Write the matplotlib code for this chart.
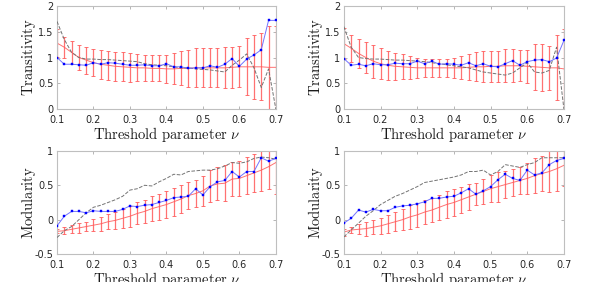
import numpy as np
import matplotlib.pyplot as plt
from matplotlib.ticker import FormatStrFormatter

plt.rcParams['mathtext.fontset'] = 'cm'

nu = np.round(np.arange(0.1, 0.7001, 0.02), 2)

# transitivity, left panel
trans_obs_a = [1.0, 0.87, 0.87, 0.86, 0.85, 0.9, 0.87, 0.9, 0.89, 0.87, 0.85, 0.85, 0.86, 0.84, 0.84, 0.88,
               0.82, 0.82, 0.79, 0.8, 0.8, 0.84, 0.81, 0.87, 0.98, 0.83, 0.97, 1.05, 1.15, 1.72, 1.72]
trans_mean_a = [1.28, 1.2, 1.1, 1.0, 0.95, 0.9, 0.87, 0.85, 0.83, 0.82, 0.81, 0.8, 0.8, 0.79, 0.79, 0.78,
                0.78, 0.79, 0.79, 0.8, 0.8, 0.8, 0.8, 0.8, 0.81, 0.82, 0.82, 0.82, 0.82, 0.81, 0.81]
trans_std_a = [0.27, 0.2, 0.22, 0.24, 0.26, 0.26, 0.28, 0.28, 0.28, 0.28, 0.28, 0.26, 0.25, 0.25, 0.25, 0.27,
               0.3, 0.33, 0.36, 0.38, 0.38, 0.38, 0.38, 0.4, 0.4, 0.4, 0.55, 0.62, 0.65, 0.8, 0.8]
trans_ref_a = [1.7, 1.35, 1.1, 1.0, 0.97, 0.97, 0.96, 0.96, 0.95, 0.94, 0.93, 0.92, 0.88, 0.86, 0.85, 0.84,
               0.82, 0.8, 0.8, 0.78, 0.77, 0.76, 0.74, 0.72, 0.85, 0.95, 1.07, 0.8, 0.42, 0.78, 0.0]

# transitivity, right panel
trans_obs_b = [0.98, 0.85, 0.87, 0.84, 0.88, 0.86, 0.86, 0.89, 0.88, 0.88, 0.93, 0.88, 0.93, 0.87, 0.88, 0.87,
               0.85, 0.9, 0.84, 0.88, 0.83, 0.82, 0.88, 0.94, 0.85, 0.92, 0.95, 0.96, 0.92, 0.99, 1.33]
trans_mean_b = [1.27, 1.18, 1.08, 1.0, 0.93, 0.88, 0.85, 0.83, 0.82, 0.81, 0.8, 0.8, 0.8, 0.8, 0.8, 0.8,
                0.8, 0.81, 0.82, 0.82, 0.83, 0.83, 0.84, 0.84, 0.84, 0.83, 0.82, 0.81, 0.8, 0.8, 0.78]
trans_std_b = [0.3, 0.26, 0.28, 0.3, 0.32, 0.3, 0.28, 0.26, 0.24, 0.22, 0.2, 0.17, 0.17, 0.17, 0.18, 0.2,
               0.22, 0.25, 0.28, 0.3, 0.3, 0.3, 0.32, 0.32, 0.3, 0.32, 0.45, 0.45, 0.42, 0.63, 0.78]
trans_ref_b = [1.6, 1.2, 1.0, 0.98, 0.97, 0.97, 0.96, 0.95, 0.95, 0.94, 0.93, 0.92, 0.9, 0.88, 0.86, 0.84,
               0.82, 0.8, 0.76, 0.72, 0.7, 0.68, 0.66, 0.7, 0.8, 0.9, 0.72, 0.7, 0.75, 1.2, 0.0]

# modularity, left panel
mod_obs_a = [-0.09, 0.05, 0.12, 0.12, 0.1, 0.13, 0.12, 0.12, 0.12, 0.15, 0.2, 0.19, 0.21, 0.22, 0.25, 0.28,
             0.32, 0.33, 0.34, 0.45, 0.36, 0.48, 0.55, 0.57, 0.7, 0.62, 0.7, 0.7, 0.9, 0.85, 0.89]
mod_mean_a = [-0.17, -0.16, -0.14, -0.12, -0.1, -0.08, -0.06, -0.03, -0.01, 0.02, 0.05, 0.09, 0.12, 0.16,
              0.19, 0.22, 0.26, 0.3, 0.35, 0.38, 0.42, 0.49, 0.52, 0.53, 0.59, 0.6, 0.64, 0.68, 0.72, 0.77, 0.83]
mod_std_a = [0.03, 0.05, 0.06, 0.07, 0.07, 0.09, 0.1, 0.11, 0.12, 0.14, 0.15, 0.16, 0.17, 0.18, 0.19, 0.2,
             0.2, 0.21, 0.2, 0.2, 0.22, 0.23, 0.24, 0.26, 0.25, 0.26, 0.27, 0.28, 0.3, 0.32, 0.46]
mod_ref_a = [-0.26, -0.16, -0.1, 0.0, 0.1, 0.18, 0.21, 0.25, 0.29, 0.34, 0.43, 0.45, 0.5, 0.49, 0.55, 0.6,
             0.66, 0.65, 0.7, 0.71, 0.72, 0.72, 0.74, 0.78, 0.83, 0.82, 0.84, 0.89, 0.91, 0.9, 0.88]

# modularity, right panel
mod_obs_b = [-0.05, 0.02, 0.14, 0.11, 0.15, 0.13, 0.13, 0.18, 0.2, 0.21, 0.23, 0.26, 0.31, 0.31, 0.33, 0.34,
             0.39, 0.45, 0.37, 0.42, 0.48, 0.58, 0.66, 0.6, 0.57, 0.72, 0.65, 0.68, 0.8, 0.86, 0.89]
mod_mean_b = [-0.18, -0.15, -0.14, -0.13, -0.11, -0.09, -0.06, -0.03, 0.0, 0.04, 0.07, 0.11, 0.14, 0.18,
              0.22, 0.25, 0.29, 0.33, 0.37, 0.41, 0.45, 0.48, 0.51, 0.54, 0.57, 0.6, 0.64, 0.67, 0.7, 0.74, 0.79]
mod_std_b = [0.05, 0.05, 0.07, 0.1, 0.1, 0.12, 0.13, 0.14, 0.15, 0.17, 0.17, 0.18, 0.18, 0.18, 0.19, 0.19,
             0.19, 0.19, 0.16, 0.18, 0.2, 0.22, 0.2, 0.2, 0.2, 0.22, 0.25, 0.25, 0.3, 0.32, 0.3]
mod_ref_b = [-0.25, -0.15, -0.05, 0.05, 0.13, 0.22, 0.28, 0.34, 0.38, 0.43, 0.48, 0.54, 0.56, 0.58, 0.6, 0.62,
             0.65, 0.7, 0.7, 0.72, 0.65, 0.7, 0.8, 0.78, 0.76, 0.8, 0.83, 0.9, 0.9, 0.9, 0.9]

panels = [
    (trans_obs_a, trans_mean_a, trans_std_a, trans_ref_a, 'Transitivity', (0, 2), [0, 0.5, 1, 1.5, 2]),
    (trans_obs_b, trans_mean_b, trans_std_b, trans_ref_b, 'Transitivity', (0, 2), [0, 0.5, 1, 1.5, 2]),
    (mod_obs_a, mod_mean_a, mod_std_a, mod_ref_a, 'Modularity', (-0.5, 1), [-0.5, 0, 0.5, 1]),
    (mod_obs_b, mod_mean_b, mod_std_b, mod_ref_b, 'Modularity', (-0.5, 1), [-0.5, 0, 0.5, 1]),
]
positions = [
    [0.0953, 0.613, 0.366, 0.366],
    [0.575, 0.613, 0.368, 0.366],
    [0.0953, 0.099, 0.366, 0.366],
    [0.575, 0.099, 0.368, 0.366],
]

fig = plt.figure(figsize=(5.98, 2.82), dpi=100)

for (obs, mean, std, ref, ylab, ylim, yticks), pos in zip(panels, positions):
    ax = fig.add_axes(pos)
    ax.errorbar(nu, mean, yerr=std, color=(1, 0.35, 0.35), lw=0.7, elinewidth=0.9,
                capsize=1.6, capthick=0.7, alpha=0.85, zorder=2)
    ax.plot(nu, ref, '--', color='0.45', lw=0.7, zorder=3)
    ax.plot(nu, obs, '-', color=(0.45, 0.45, 1), lw=0.7, zorder=4)
    ax.plot(nu, obs, 's', color='blue', ms=2, mec='blue', mew=0.3, zorder=5)
    ax.set_xlim(0.1, 0.7)
    ax.set_ylim(*ylim)
    ax.set_xticks(np.arange(0.1, 0.71, 0.1))
    ax.set_yticks(yticks)
    ax.xaxis.set_major_formatter(FormatStrFormatter('%g'))
    ax.yaxis.set_major_formatter(FormatStrFormatter('%g'))
    ax.tick_params(direction='in', length=2, width=0.5, color='0.6', labelsize=7,
                   top=True, right=True, labelcolor='0.15')
    ax.tick_params(axis='x', pad=4)
    ax.tick_params(axis='y', pad=2.5)
    for s in ax.spines.values():
        s.set_color('0.75')
        s.set_linewidth(0.8)
    ax.set_xlabel(r'$\mathrm{Threshold\ parameter}\ \nu$', fontsize=10.5, labelpad=0.5, color='0.1')
    ax.set_ylabel(r'$\mathrm{' + ylab + '}$', fontsize=10.5, color='0.1', va='center')
    ax.yaxis.set_label_coords(-0.128, 0.5)

fig.savefig('out.png', dpi=100)
